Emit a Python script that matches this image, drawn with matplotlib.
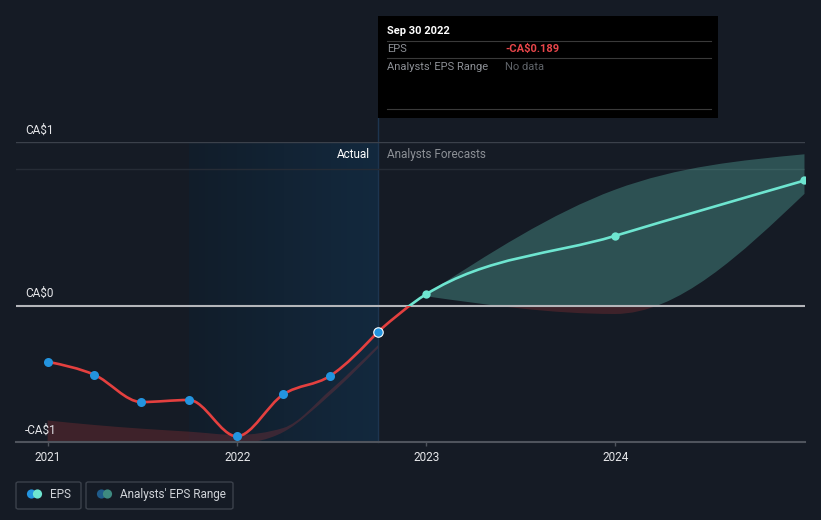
import numpy as np
import pandas as pd
import matplotlib
matplotlib.use("Agg")
import matplotlib.pyplot as plt
import matplotlib.dates as mdates
from matplotlib.path import Path
from matplotlib.patches import PathPatch, Rectangle, FancyBboxPatch, Circle
from matplotlib.colors import LinearSegmentedColormap

plt.rcParams['font.family'] = ['Roboto', 'DejaVu Sans']

# --- data (CA$ per share) ---
actual_dates = ["2020-12-31", "2021-03-31", "2021-06-30", "2021-09-30",
                "2021-12-31", "2022-03-31", "2022-06-30", "2022-09-30"]
actual_eps = [-0.41, -0.505, -0.705, -0.69, -0.956, -0.649, -0.512, -0.189]
past_range_hi = [-0.84, -0.873, -0.90, -0.922, -0.946, -0.895, -0.617, -0.288]
past_range_lo = [-1.05, -1.05, -1.05, -1.05, -1.02, -0.925, -0.65, -0.31]

forecast_dates = ["2022-09-30", "2022-12-31", "2023-12-31", "2024-12-31"]
forecast_eps = [-0.189, 0.083, 0.512, 0.918]
range_dates = ["2022-12-31", "2023-12-31", "2024-12-31"]
range_hi = [0.083, 0.85, 1.11]
range_lo = [0.07, -0.06, 0.82]

year_ticks = ["2021", "2022", "2023", "2024"]
ytick_values = [1.2, 0.0, -1.0]
ytick_labels = [r"CA\$1", r"CA\$0", r"-CA\$1"]

BG = '#151b25'
RED = '#e4403f'
TEAL = '#6ee5d0'
BLUE = '#2394df'

W, H = 821, 520


def px(x, y):
    return x / W, 1 - y / H


def to_num(dates):
    return mdates.date2num(pd.to_datetime(dates))


def monotone_verts(x, y):
    # d3 curveMonotoneX as cubic bezier control points
    x = np.asarray(x, float)
    y = np.asarray(y, float)
    n = len(x)
    h = np.diff(x)
    s = np.diff(y) / h
    t = np.zeros(n)
    for i in range(1, n - 1):
        p = (s[i - 1] * h[i] + s[i] * h[i - 1]) / (h[i - 1] + h[i])
        t[i] = (np.sign(s[i - 1]) + np.sign(s[i])) * min(abs(s[i - 1]), abs(s[i]), 0.5 * abs(p))
    if n > 2:
        t[0] = (3 * s[0] - t[1]) / 2
        t[-1] = (3 * s[-1] - t[-2]) / 2
    else:
        t[:] = s[0]
    verts = [(x[0], y[0])]
    for i in range(n - 1):
        dx = h[i] / 3
        verts += [(x[i] + dx, y[i] + dx * t[i]),
                  (x[i + 1] - dx, y[i + 1] - dx * t[i + 1]),
                  (x[i + 1], y[i + 1])]
    return verts


def curve_path(x, y):
    v = monotone_verts(x, y)
    return Path(v, [Path.MOVETO] + [Path.CURVE4] * (len(v) - 1))


def band_path(x, lo, hi):
    up = monotone_verts(x, hi)
    dn = monotone_verts(x, lo)[::-1]
    verts = up + dn + [up[0]]
    codes = ([Path.MOVETO] + [Path.CURVE4] * (len(up) - 1) +
             [Path.LINETO] + [Path.CURVE4] * (len(dn) - 1) + [Path.CLOSEPOLY])
    return Path(verts, codes)


def main():
    fig = plt.figure(figsize=(8.21, 5.2), dpi=100, facecolor=BG)
    left, top = px(16, 142)
    right, bottom = px(805, 442.3)
    ax = fig.add_axes([left, bottom, right - left, top - bottom])
    ax.set_facecolor('none')

    xa = to_num(actual_dates)
    xf = to_num(forecast_dates)
    xr = to_num(range_dates)
    xmin, xmax = to_num(["2020-10-31", "2025-01-01"])
    ymin, ymax = -1.0, 1.2

    def clip_rect(above):
        # rectangle clip replaces the axes clip box, so keep it inside the limits
        if above:
            return Rectangle((xmin, 0), xmax - xmin, ymax, transform=ax.transData)
        return Rectangle((xmin, ymin), xmax - xmin, -ymin, transform=ax.transData)

    # highlighted past year
    x0, x1 = to_num(["2021-09-30", "2022-09-30"])
    cmap = LinearSegmentedColormap.from_list('hl', ['#111d2a', '#13293e'])
    ax.imshow(np.linspace(0, 1, 256).reshape(1, -1), cmap=cmap, aspect='auto',
              extent=[x0, x1, ymin, ymax], zorder=0)
    ax.axvline(x1, color='#1d3550', lw=1, ymax=1.08, clip_on=False, zorder=1)

    # grid lines
    ax.axhline(1.2, color='#3b414b', lw=1, zorder=1)
    ax.axhline(1.0, color='#262c36', lw=1, zorder=1)
    ax.axhline(0.0, color='#b4b6ba', lw=1.5, zorder=3)
    ax.axhline(-1.0, color='#4f545d', lw=1.5, zorder=3, clip_on=False)

    # analysts' range bands
    for path in (band_path(xa, past_range_lo, past_range_hi),
                 band_path(xr, range_lo, range_hi)):
        for above, col, al in ((True, TEAL, 0.27), (False, RED, 0.2)):
            patch = PathPatch(path, facecolor=col, alpha=al, lw=0, zorder=2)
            ax.add_patch(patch)
            patch.set_clip_path(clip_rect(above))

    # EPS lines, coloured by sign
    for xs, ys in ((xa, actual_eps), (xf, forecast_eps)):
        path = curve_path(xs, ys)
        for above, col in ((True, TEAL), (False, RED)):
            line = PathPatch(path, fill=False, edgecolor=col, lw=1.9,
                             capstyle='round', zorder=4)
            ax.add_patch(line)
            line.set_clip_path(clip_rect(above))

    ax.plot(xa[:-1], actual_eps[:-1], 'o', color=BLUE, ms=6.5, mew=0, zorder=5)
    ax.plot(xa[-1:], actual_eps[-1:], 'o', color=BLUE, ms=6.8, mec='white', mew=0.8, zorder=5)
    ax.plot(xf[1:], forecast_eps[1:], 'o', color=TEAL, ms=6, mew=0, zorder=5)

    ax.set_xlim(xmin, xmax)
    ax.set_ylim(ymin, ymax)
    for sp in ax.spines.values():
        sp.set_visible(False)
    ax.set_yticks([])
    ax.set_xticks(to_num([y + "-01-01" for y in year_ticks]))
    ax.set_xticklabels(year_ticks)
    ax.tick_params(axis='x', length=3, width=1, color='#4f545d', pad=3,
                   labelsize=8.5, labelcolor='#e6e7ea')

    for v, lab in zip(ytick_values, ytick_labels):
        ax.annotate(lab, xy=(0, v), xycoords=('axes fraction', 'data'),
                    xytext=(9, 12), textcoords='offset pixels',
                    ha='left', va='center', fontsize=8.5, color='#e6e7ea',
                    annotation_clip=False)

    ax.annotate("Actual", xy=(x1, 1.1), xytext=(-8, 1), textcoords='offset pixels',
                ha='right', va='center', fontsize=8.5, color='#ffffff')
    ax.annotate("Analysts Forecasts", xy=(x1, 1.1), xytext=(9, 1), textcoords='offset pixels',
                ha='left', va='center', fontsize=8.5, color='#8c9096')

    # tooltip
    bx, by = px(378, 118)
    fig.add_artist(Rectangle((bx, by), 340 / W, 102 / H, transform=fig.transFigure,
                             facecolor='black', edgecolor='none'))
    for yl in (41, 58, 109):
        xa0, ya0 = px(387, yl)
        xa1, _ = px(711, yl)
        fig.add_artist(plt.Line2D([xa0, xa1], [ya0, ya0], color='#3a3a3a', lw=0.8))
    fig.text(*px(387, 31), "Sep 30 2022", fontsize=8, fontweight='bold',
             color='white', va='center')
    fig.text(*px(387, 48.5), "EPS", fontsize=8, color='#8d9096', va='center')
    fig.text(*px(505, 48.5), r"-CA\$0.189", fontsize=8, color='#e8464a',
             fontweight='bold', va='center')
    fig.text(*px(387, 66.5), "Analysts' EPS Range", fontsize=8, color='#8d9096', va='center')
    fig.text(*px(505, 66.5), "No data", fontsize=8, color='#5f6368', va='center')

    # legend
    legend_items = [("EPS", 16, 81, 50, ('#2394df', '#6ee5d0')),
                    ("Analysts' EPS Range", 86, 233, 120, ('#1f5b8a', '#3e8a80'))]
    for label, lx0, lx1, tx, cols in legend_items:
        x0f, y0f = px(lx0, 509)
        fig.add_artist(FancyBboxPatch((x0f, y0f), (lx1 - lx0) / W, 27 / H,
                                      boxstyle='round,pad=0,rounding_size=0.003',
                                      transform=fig.transFigure, facecolor='none',
                                      edgecolor='#3b414b', lw=1))
        for k, c in enumerate(cols):
            cx = lx0 + 15.5 + 6 * k
            fig.add_artist(Circle((cx, H - 494), 4.6, transform=None, facecolor=c,
                                  edgecolor='none'))
        fig.text(*px(tx, 494.5), label, fontsize=8.5, color='#d0d3d8', va='center')

    fig.savefig("out.png", dpi=100, facecolor=BG)


if __name__ == "__main__":
    main()
